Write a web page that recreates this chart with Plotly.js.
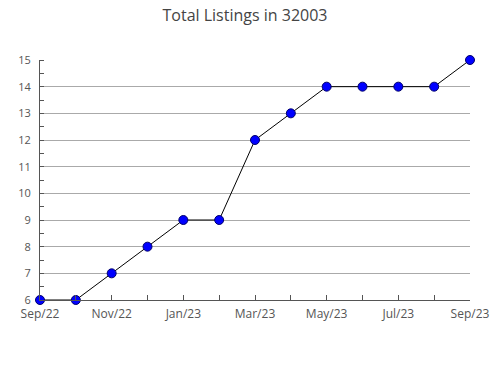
<!DOCTYPE html>
<html><head><meta charset="utf-8">
<script src="https://cdn.plot.ly/plotly-3.0.1.min.js"></script>
<style>html,body{margin:0;padding:0;background:#fff}#chart{width:490px;height:380px}</style>
</head><body><div id="chart"></div>
<script>
const months = ["Sep/22","Oct/22","Nov/22","Dec/22","Jan/23","Feb/23","Mar/23","Apr/23","May/23","Jun/23","Jul/23","Aug/23","Sep/23"];
const listings = [6,6,7,8,9,9,12,13,14,14,14,14,15];
const tickLabels = ["Sep/22","","Nov/22","","Jan/23","","Mar/23","","May/23","","Jul/23","","Sep/23"];
const yTicks = [6,7,8,9,10,11,12,13,14,15];

const xIdx = months.map((m,i)=>i);
const trace = {
  x: xIdx, y: listings, type: 'scatter', mode: 'lines+markers',
  line: {color: '#000', width: 1},
  marker: {color: '#0000ff', size: 9, line: {color: '#00006b', width: 1}},
  cliponaxis: false, hoverinfo: 'skip'
};
const yfont = {family: 'Open Sans, sans-serif', color: '#555', size: 11};
const xfont = {family: 'Open Sans, sans-serif', color: '#555', size: 12};
const layout = {
  width: 490, height: 380,
  margin: {l: 40, r: 20, t: 60, b: 80},
  paper_bgcolor: '#fff', plot_bgcolor: '#fff',
  showlegend: false,
  title: {text: 'Total Listings in 32003', x: 0.5, xanchor: 'center', y: 0.96, yanchor: 'middle', font: {family: 'Open Sans, sans-serif', size: 16, color: '#444'}},
  xaxis: {
    range: [0, months.length-1], tickmode: 'array', tickvals: xIdx, ticktext: tickLabels,
    ticks: 'inside', ticklen: 5, tickcolor: '#555', tickwidth: 1,
    showline: true, linecolor: '#555', linewidth: 1, showgrid: false, zeroline: false,
    tickfont: xfont, ticklabelstandoff: 3, fixedrange: true
  },
  yaxis: {
    range: [6, 15], tickmode: 'array', tickvals: yTicks, ticktext: yTicks.map(String),
    ticks: '', showline: true, linecolor: '#555', linewidth: 1,
    showgrid: true, gridcolor: '#aaa', gridwidth: 1, zeroline: false,
    tickfont: yfont, ticklabelstandoff: 6,
    minor: {dtick: 0.5, tick0: 6.5, ticks: 'inside', ticklen: 4, tickcolor: '#555', showgrid: false},
    fixedrange: true
  }
};
Plotly.newPlot('chart', [trace], layout, {displayModeBar: false, staticPlot: true});
</script></body></html>
